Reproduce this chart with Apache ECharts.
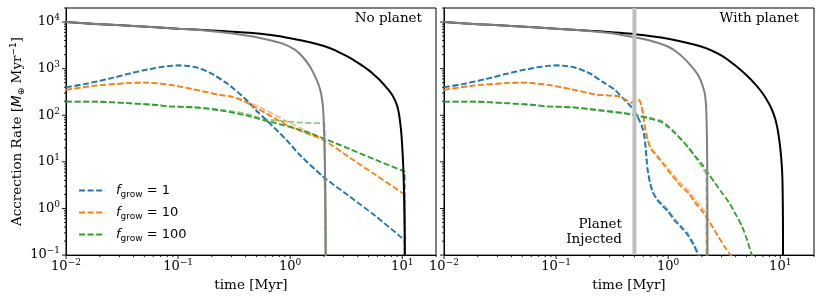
<!DOCTYPE html>
<html><head><meta charset="utf-8">
<script src="https://cdn.jsdelivr.net/npm/echarts@6/dist/echarts.min.js"></script>
<style>html,body{margin:0;padding:0;background:#fff}#c{width:830px;height:297px}</style>
</head><body><div id="c"></div>
<script>
// ---------- axis ranges & ticks ----------
const xMin = 0.01, xMax = 20, yMin = 0.1, yMax = 20000;
const xMajorTicks = [0.01, 0.1, 1, 10];
const xMinorTicks = [0.02,0.03,0.04,0.05,0.06,0.07,0.08,0.09,0.2,0.3,0.4,0.5,0.6,0.7,0.8,0.9,2,3,4,5,6,7,8,9,20];
const yMajorTicks = [0.1, 1, 10, 100, 1000, 10000];
const yMinorTicks = [0.2,0.3,0.4,0.5,0.6,0.7,0.8,0.9,2,3,4,5,6,7,8,9,20,30,40,50,60,70,80,90,
  200,300,400,500,600,700,800,900,2000,3000,4000,5000,6000,7000,8000,9000,20000];
const planetTime = 0.5;
const legendValues = {f1: '1', f10: '10', f100: '100'};

// ---------- No planet panel ----------
const npBlack = [[0.01,10000],[0.02,9000],[0.04,8200],[0.1,7200],[0.2,6600],[0.43,5900],[0.7,5200],[1.0,4500],[1.5,3700],[2.0,3050],[2.5,2500],[3.0,2000],[3.5,1650],[4.0,1350],[4.5,1120],[5.0,930],[5.5,770],[6.0,635],[6.5,525],[7.0,430],[7.5,355],[8.0,290],[8.5,225],[9.0,160],[9.3,115],[9.5,82],[9.7,55],[9.85,36],[10.0,21],[10.14,11],[10.25,6],[10.35,2.5],[10.45,0.8],[10.52,0.2],[10.57,0.01]];
const npGray = [[0.01,10000],[0.02,9000],[0.04,8200],[0.1,7200],[0.156,6750],[0.31,5700],[0.435,5000],[0.6,4300],[0.86,3450],[1.1,2550],[1.29,1800],[1.5,1110],[1.7,620],[1.8,440],[1.88,305],[1.95,173],[1.99,83],[2.02,25],[2.05,5],[2.07,1],[2.08,0.01]];
const npBlueLong = [[0.01,400],[0.015,470],[0.025,620],[0.035,760],[0.05,930],[0.07,1080],[0.085,1150],[0.1,1170],[0.12,1150],[0.15,1040],[0.2,780],[0.27,490],[0.31,380],[0.41,210],[0.5,125],[0.61,80],[0.92,30],[1.21,14.3],[1.95,4.9],[3.37,1.83],[5.81,0.68],[10.0,0.23],[10.5,0.2],[10.55,0.01]];
const npBlueShort = [[0.01,400],[0.015,470],[0.025,620],[0.035,760],[0.05,930],[0.07,1080],[0.085,1150],[0.1,1170],[0.12,1150],[0.15,1040],[0.2,780],[0.27,490],[0.31,380],[0.41,210],[0.5,125],[0.61,80],[0.92,30],[1.21,14.3],[1.95,4.9],[2.02,4.5],[2.05,1],[2.08,0.01]];
const npOrangeLong = [[0.01,350],[0.0176,428],[0.0348,488],[0.0526,502],[0.0846,449],[0.136,363],[0.235,274],[0.3,250],[0.378,205],[0.45,165],[0.61,110],[0.92,63],[1.3,44],[1.95,30],[3.37,12.5],[5.81,5.2],[10.0,2.16],[10.5,2.0],[10.55,0.01]];
const npOrangeShort = [[0.01,350],[0.0176,428],[0.0348,488],[0.0526,502],[0.0846,449],[0.136,363],[0.235,274],[0.3,252],[0.378,215],[0.45,180],[0.61,128],[0.92,75],[1.3,50],[1.8,34],[2.0,30],[2.04,3],[2.08,0.01]];
const npGreenLong = [[0.01,197],[0.02,195],[0.035,182],[0.06,168],[0.085,155],[0.136,148],[0.235,128],[0.4,100],[0.61,76],[0.9,60],[1.21,49],[1.6,39],[1.95,32.5],[3.37,19],[5.81,11],[10.0,6.5],[10.5,6.2],[10.55,0.01]];
const npGreenShort = [[0.01,197],[0.02,195],[0.035,182],[0.06,168],[0.085,155],[0.136,150],[0.235,133],[0.4,108],[0.61,82],[0.9,74],[1.21,70],[1.6,68],[1.95,67],[2.02,66],[2.05,3],[2.08,0.01]];

// ---------- With planet panel ----------
const wpBlack = [[0.01,10000],[0.02,9000],[0.04,8200],[0.1,7200],[0.2,6500],[0.5,5500],[1.0,4400],[2.0,2950],[3.0,1900],[4.0,1150],[5.0,720],[6.0,460],[7.0,290],[7.9,180],[8.5,125],[9.0,85],[9.4,55],[9.7,35],[10.0,20],[10.2,12],[10.4,6],[10.5,2.5],[10.57,0.5],[10.6,0.01]];
const wpGray = [[0.01,10000],[0.02,9000],[0.04,8200],[0.1,7200],[0.135,6900],[0.3,5800],[0.5,4700],[0.7,3950],[1.0,2950],[1.2,2250],[1.41,1600],[1.6,1150],[1.75,880],[1.85,720],[1.95,560],[2.05,400],[2.13,280],[2.18,150],[2.21,50],[2.23,10],[2.25,0.01]];
const wpBlueLong = [[0.01,400],[0.015,470],[0.025,620],[0.035,760],[0.05,930],[0.07,1080],[0.085,1150],[0.1,1170],[0.12,1150],[0.15,1040],[0.2,790],[0.27,490],[0.33,360],[0.41,210],[0.47,150],[0.5,125],[0.537,90],[0.58,60],[0.61,38],[0.63,20],[0.645,10],[0.66,6],[0.69,3.5],[0.73,2.2],[0.8,1.5],[0.9,1.1],[1.0,0.85],[1.14,0.55],[1.3,0.4],[1.51,0.26],[1.7,0.16],[1.85,0.1],[2.0,0.07]];
const wpBlueShort = [[0.01,400],[0.015,470],[0.025,620],[0.035,760],[0.05,930],[0.07,1080],[0.085,1150],[0.1,1170],[0.12,1150],[0.15,1040],[0.2,790],[0.27,490],[0.33,360],[0.41,210],[0.47,150],[0.5,125],[0.537,90],[0.58,60],[0.61,38],[0.63,20],[0.645,10],[0.66,6],[0.69,3.6],[0.73,2.3],[0.8,1.6],[0.9,1.2],[1.0,0.92],[1.14,0.6],[1.3,0.43],[1.51,0.28],[1.7,0.17],[1.9,0.1],[2.05,0.07]];
const wpOrangeLong = [[0.01,350],[0.0176,428],[0.0348,488],[0.0526,502],[0.0846,449],[0.136,363],[0.235,274],[0.29,268],[0.356,256],[0.42,215],[0.47,185],[0.52,200],[0.55,210],[0.575,160],[0.6,95],[0.62,55],[0.64,38],[0.66,28],[0.7,19],[0.8,13],[0.9,9],[1.0,6.5],[1.3,3.0],[1.5,2.2],[1.75,1.3],[2.0,0.9],[2.3,0.55],[2.8,0.25],[3.2,0.15],[3.6,0.1],[3.8,0.08]];
const wpOrangeShort = [[0.01,350],[0.0176,428],[0.0348,488],[0.0526,502],[0.0846,449],[0.136,363],[0.235,274],[0.29,268],[0.356,256],[0.42,218],[0.47,188],[0.52,205],[0.55,215],[0.575,165],[0.6,100],[0.62,60],[0.64,40],[0.66,30],[0.7,20],[0.8,14],[0.9,9.8],[1.0,7.2],[1.3,3.4],[1.5,2.5],[1.75,1.5],[2.0,1.05],[2.17,0.8],[2.19,0.3],[2.2,0.01]];
const wpGreenLong = [[0.01,197],[0.02,195],[0.035,182],[0.06,168],[0.085,155],[0.136,148],[0.235,128],[0.4,110],[0.47,103],[0.55,95],[0.65,88],[0.75,80],[0.87,72],[1.0,56],[1.14,42],[1.31,30],[1.5,21],[1.73,13.5],[2.0,9],[2.28,5.6],[2.6,3.6],[3.0,2.2],[3.45,1.4],[4.0,0.75],[4.54,0.42],[5.0,0.23],[5.58,0.1],[5.8,0.08]];
const wpGreenShort = [[0.01,197],[0.02,195],[0.035,182],[0.06,168],[0.085,155],[0.136,150],[0.235,133],[0.4,114],[0.47,107],[0.55,99],[0.65,92],[0.75,84],[0.87,76],[1.0,60],[1.14,44],[1.31,31],[1.5,21],[1.73,13],[2.0,7.8],[2.15,5.8],[2.19,5.2],[2.2,2],[2.22,0.01]];

// ---------- styling ----------
const C = {blue:'#1f77b4', orange:'#ff7f0e', green:'#2ca02c'};
const DASH = [6, 2.6];
const SERIF = 'DejaVu Serif', SANS = 'DejaVu Sans';

function lineSeries(name, data, color, g, opt) {
  opt = opt || {};
  return {
    type: 'line', name, data, xAxisIndex: g, yAxisIndex: g,
    symbol: 'none', showSymbol: false, clip: true, animation: false, silent: true,
    smooth: opt.smooth == null ? 0.25 : opt.smooth,
    z: opt.z || 3,
    lineStyle: {color, width: opt.width || 1.8, type: opt.type || 'solid', opacity: opt.opacity == null ? 1 : opt.opacity},
    itemStyle: {color}
  };
}
function dashed(name, data, color, g, light) {
  return lineSeries(name, data, color, g, {type: DASH, width: 1.8, opacity: light ? 0.55 : 1, z: light ? 2 : 3});
}
function powLabel(v) {
  const e = Math.log10(v), r = Math.round(e);
  if (Math.abs(e - r) > 1e-6) return '';
  return '{b|10}{e|' + (r < 0 ? '\u2212' + (-r) : r) + '}';
}
const tickRich = {
  b: {fontFamily: SERIF, fontSize: 13, color: '#000', lineHeight: 17},
  e: {fontFamily: SERIF, fontSize: 9, color: '#000', lineHeight: 10, verticalAlign: 'top'}
};
function tickSeries(g) {
  const data = [];
  xMajorTicks.forEach(v => data.push([v, yMin, 4, 0]));
  xMinorTicks.forEach(v => data.push([v, yMin, 2, 0]));
  yMajorTicks.forEach(v => data.push([xMin, v, 4, 1]));
  yMinorTicks.forEach(v => data.push([xMin, v, 2, 1]));
  return {
    type: 'custom', xAxisIndex: g, yAxisIndex: g, data, silent: true, z: 20, animation: false,
    renderItem: function (params, api) {
      const p = api.coord([api.value(0), api.value(1)]);
      const len = api.value(2);
      const isY = api.value(3) === 1;
      const shape = isY ? {x1: p[0] - len, y1: p[1], x2: p[0], y2: p[1]}
                        : {x1: p[0], y1: p[1], x2: p[0], y2: p[1] + len};
      return {type: 'line', shape, style: {stroke: '#000', lineWidth: 0.9}};
    }
  };
}
function xAxis(g) {
  return {
    type: 'log', logBase: 10, gridIndex: g, min: xMin, max: xMax,
    axisLine: {show: true, lineStyle: {color: '#000', width: 1}},
    axisTick: {show: false}, splitLine: {show: false}, minorTick: {show: false},
    axisLabel: {formatter: powLabel, margin: 3, rich: tickRich, color: '#000'},
    name: 'time [Myr]', nameLocation: 'middle', nameGap: 21,
    nameTextStyle: {fontFamily: SERIF, fontSize: 13.5, color: '#000'}
  };
}
function yAxis(g) {
  const ax = {
    type: 'log', logBase: 10, gridIndex: g, min: yMin, max: yMax,
    axisLine: {show: true, lineStyle: {color: '#000', width: 1}},
    axisTick: {show: false}, splitLine: {show: false}, minorTick: {show: false},
    axisLabel: {show: g === 0, formatter: powLabel, margin: 6, rich: tickRich, color: '#000'}
  };
  if (g === 0) {
    ax.name = '{t|Accrection Rate [}{m|M}{s|\u2295}{t| Myr}{e|\u22121}{t|]}';
    ax.nameLocation = 'middle';
    ax.nameRotate = 90;
    ax.nameGap = 40;
    ax.nameTextStyle = {
      color: '#000',
      rich: {
        t: {fontFamily: SERIF, fontSize: 13.5, color: '#000', lineHeight: 17},
        m: {fontFamily: SANS, fontStyle: 'italic', fontSize: 13.5, color: '#000', lineHeight: 17},
        s: {fontFamily: SANS, fontSize: 9, color: '#000', lineHeight: 10, verticalAlign: 'bottom'},
        e: {fontFamily: SANS, fontSize: 9, color: '#000', lineHeight: 10, verticalAlign: 'top'}
      }
    };
  }
  return ax;
}

const series = [
  // No planet
  dashed('f1s', npBlueShort, C.blue, 0, true),
  dashed('f10s', npOrangeShort, C.orange, 0, true),
  dashed('f100s', npGreenShort, C.green, 0, true),
  dashed('f1', npBlueLong, C.blue, 0, false),
  dashed('f10', npOrangeLong, C.orange, 0, false),
  dashed('f100', npGreenLong, C.green, 0, false),
  lineSeries('gasLong', npBlack, '#000', 0, {width: 2, z: 4}),
  lineSeries('gasShort', npGray, '#808080', 0, {width: 2, z: 5}),
  // With planet
  dashed('f1s', wpBlueShort, C.blue, 1, true),
  dashed('f10s', wpOrangeShort, C.orange, 1, true),
  dashed('f100s', wpGreenShort, C.green, 1, true),
  dashed('f1', wpBlueLong, C.blue, 1, false),
  dashed('f10', wpOrangeLong, C.orange, 1, false),
  dashed('f100', wpGreenLong, C.green, 1, false),
  lineSeries('gasLong', wpBlack, '#000', 1, {width: 2, z: 4}),
  lineSeries('gasShort', wpGray, '#808080', 1, {width: 2, z: 5}),
  lineSeries('planet', [[planetTime, yMin], [planetTime, yMax]], '#bfbfbf', 1, {width: 4, z: 8, smooth: false}),
  tickSeries(0), tickSeries(1)
];

const chart = echarts.init(document.getElementById('c'), null, {renderer: 'canvas'});
chart.setOption({
  animation: false,
  backgroundColor: '#fff',
  grid: [
    {left: 66, top: 8, width: 370, height: 248, show: true, borderColor: '#000', borderWidth: 1, backgroundColor: 'transparent'},
    {left: 444, top: 8, width: 370, height: 248, show: true, borderColor: '#000', borderWidth: 1, backgroundColor: 'transparent'}
  ],
  xAxis: [xAxis(0), xAxis(1)],
  yAxis: [yAxis(0), yAxis(1)],
  legend: {
    data: ['f1', 'f10', 'f100'],
    orient: 'vertical', left: 73, top: 179,
    itemWidth: 26, itemHeight: 10, itemGap: 7,
    selectedMode: false,
    itemStyle: {opacity: 0, borderWidth: 0},
    formatter: n => '{i|f}{s|grow}{n| = ' + legendValues[n] + '}',
    textStyle: {
      color: '#000', padding: [0, 0, 0, 6],
      rich: {
        i: {fontFamily: SANS, fontStyle: 'italic', fontSize: 13, color: '#000', lineHeight: 17},
        s: {fontFamily: SANS, fontSize: 9, color: '#000', lineHeight: 11, verticalAlign: 'bottom'},
        n: {fontFamily: SANS, fontSize: 13, color: '#000', lineHeight: 17}
      }
    }
  },
  graphic: [
    {type: 'text', right: 408, top: 11, style: {text: 'No planet', font: '13.5px "DejaVu Serif"', fill: '#000'}},
    {type: 'text', right: 31, top: 11, style: {text: 'With planet', font: '13.5px "DejaVu Serif"', fill: '#000'}},
    {type: 'text', right: 208, top: 217, style: {text: 'Planet', font: '13.5px "DejaVu Serif"', fill: '#000'}},
    {type: 'text', right: 208, top: 232, style: {text: 'Injected', font: '13.5px "DejaVu Serif"', fill: '#000'}}
  ],
  series
});
</script></body></html>
